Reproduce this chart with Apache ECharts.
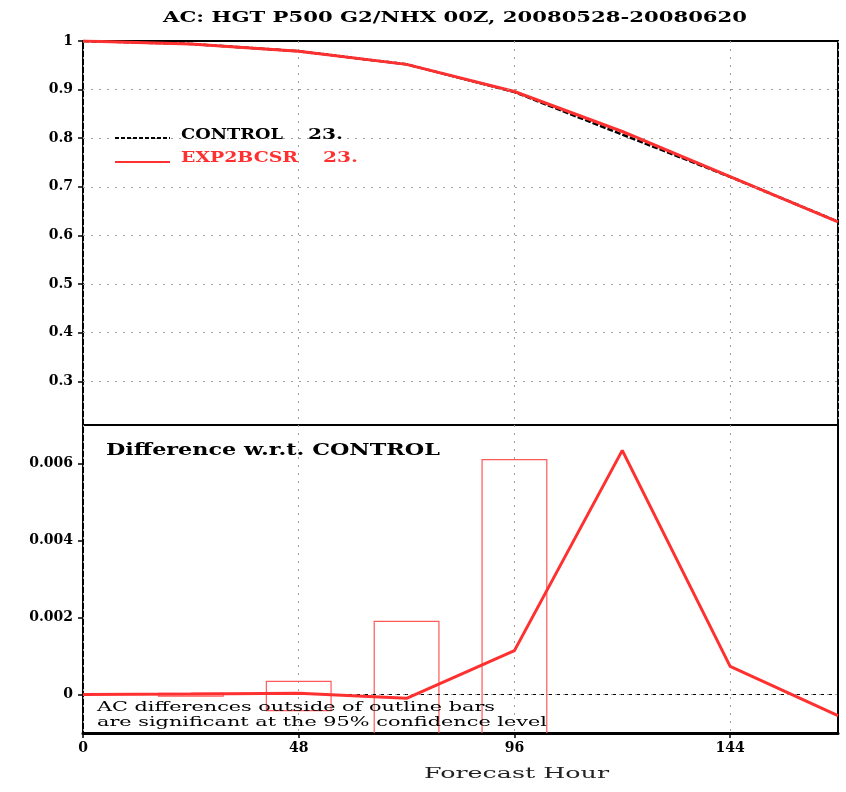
<!DOCTYPE html>
<html><head><meta charset="utf-8">
<script src="https://cdn.jsdelivr.net/npm/echarts@6/dist/echarts.min.js"></script>
<style>html,body{margin:0;padding:0;background:#fff}#c{width:846px;height:792px}</style>
</head><body><div id="c"></div>
<script>
// ---- data ----
const hours = [0, 24, 48, 72, 96, 120, 144, 168];
const controlAC = [1.0, 0.994, 0.979, 0.952, 0.895, 0.8075, 0.7205, 0.6285];
const expAC = [1.0, 0.994, 0.979, 0.9519, 0.8961, 0.8138, 0.7212, 0.6280];
const diffControl = [0, 0, 0, 0, 0, 0, 0, 0];
const diffExp = [0, 0.00001, 0.00003, -0.0001, 0.00114, 0.00634, 0.00073, -0.00055];
const barHours = [24, 48, 72, 96];
const barLow = [-0.00004, -0.00042, -0.0021, -0.0062];
const barHigh = [0.00003, 0.00034, 0.0019, 0.0061];
const xTicks = [0, 48, 96, 144];
const topTicks = [0.3, 0.4, 0.5, 0.6, 0.7, 0.8, 0.9, 1];
const diffTicks = [0, 0.002, 0.004, 0.006];
const titleText = 'AC: HGT P500 G2/NHX 00Z, 20080528-20080620';
const legendNames = ['CONTROL', 'EXP2BCSR'];
const legendCounts = ['23.', '23.'];
const panelTitle = 'Difference w.r.t. CONTROL';
const noteLines = ['AC differences outside of outline bars', 'are significant at the 95% confidence level'];
const xName = 'Forecast Hour';

// ---- helpers ----
const RED = '#ff3030';
const BAR_RED = '#ff5a5a';
const GRIDC = '#a0a0a0';
const ctx = document.createElement('canvas').getContext('2d');
function tw(text, font) { ctx.font = font; return ctx.measureText(text).width; }
function fitText(text, x0, x1, yc, font, fill) {
  const w = tw(text, font);
  return {
    type: 'text', x: x0, y: yc, scaleX: (x1 - x0) / w, z: 100,
    style: { text: text, font: font, fill: fill, textAlign: 'left', textVerticalAlign: 'middle', align: 'left', verticalAlign: 'middle' }
  };
}
const BOLD = 'bold 14px "DejaVu Serif"';
const REG = '13px "DejaVu Serif"';
const pairs = (xs, ys) => xs.map((x, i) => [x, ys[i]]);
const labelStyle = { fontFamily: 'DejaVu Serif', fontWeight: 'bold', fontSize: 14, color: '#000' };
const dotted = { color: GRIDC, width: 1, type: [2, 6] };

const chart = echarts.init(document.getElementById('c'), null, { renderer: 'canvas' });
chart.setOption({
  animation: false,
  backgroundColor: '#fff',
  grid: [
    { left: 83, right: 8, top: 41, height: 384, show: true, borderColor: '#000', borderWidth: 2, backgroundColor: 'transparent' },
    { left: 83, right: 8, top: 425, height: 308, show: true, borderColor: '#000', borderWidth: 2, backgroundColor: 'transparent' }
  ],
  xAxis: [
    { type: 'value', gridIndex: 0, min: 0, max: 168, interval: 48,
      axisLine: { show: false }, axisTick: { show: false }, axisLabel: { show: false },
      splitLine: { show: true, lineStyle: dotted } },
    { type: 'value', gridIndex: 1, min: 0, max: 168, interval: 48,
      axisLine: { show: true, onZero: false, lineStyle: { color: '#000', width: 3 } },
      axisTick: { show: true, length: 5, inside: false, customValues: xTicks, lineStyle: { color: '#000', width: 1.5 } },
      axisLabel: Object.assign({ show: true, margin: 8, customValues: xTicks }, labelStyle),
      splitLine: { show: true, lineStyle: dotted } }
  ],
  yAxis: [
    { type: 'value', gridIndex: 0, min: 0.21, max: 1,
      axisLine: { show: false },
      axisTick: { show: true, length: 5, customValues: topTicks, lineStyle: { color: '#000', width: 1.5 } },
      axisLabel: Object.assign({ show: true, margin: 10, customValues: topTicks,
        formatter: v => (Math.round(v * 10) / 10).toString() }, labelStyle),
      splitLine: { show: false } },
    { type: 'value', gridIndex: 1, min: -0.001, max: 0.007,
      axisLine: { show: false },
      axisTick: { show: true, length: 5, customValues: diffTicks, lineStyle: { color: '#000', width: 1.5 } },
      axisLabel: Object.assign({ show: true, margin: 10, customValues: diffTicks,
        formatter: v => (Math.abs(v) < 1e-9 ? '0' : v.toFixed(3)) }, labelStyle),
      splitLine: { show: false } }
  ],
  series: [
    { name: 'CONTROL', type: 'line', xAxisIndex: 0, yAxisIndex: 0, data: pairs(hours, controlAC),
      symbol: 'none', lineStyle: { color: '#000', width: 2.5, type: [6, 2] }, z: 3,
      markLine: { silent: true, symbol: ['none', 'none'], label: { show: false },
        lineStyle: dotted, data: topTicks.filter(v => v < 1).map(v => ({ yAxis: v })) } },
    { name: 'EXP2BCSR', type: 'line', xAxisIndex: 0, yAxisIndex: 0, data: pairs(hours, expAC),
      symbol: 'none', lineStyle: { color: RED, width: 3 }, z: 4 },
    { name: 'bars', type: 'custom', xAxisIndex: 1, yAxisIndex: 1, clip: true, z: 2,
      data: barHours.map((h, i) => [h, barLow[i], barHigh[i]]),
      renderItem: function (params, api) {
        const x = api.value(0), lo = api.value(1), hi = api.value(2);
        const p1 = api.coord([x - 7.2, hi]);
        const p2 = api.coord([x + 7.2, lo]);
        return { type: 'rect', shape: { x: p1[0], y: p1[1], width: p2[0] - p1[0], height: p2[1] - p1[1] },
          style: { fill: 'none', stroke: BAR_RED, lineWidth: 1.2 } };
      } },
    { name: 'diffControl', type: 'line', xAxisIndex: 1, yAxisIndex: 1, data: pairs(hours, diffControl),
      symbol: 'none', lineStyle: { color: '#000', width: 1, type: [5, 3] }, z: 3,
      markLine: { silent: true, symbol: ['none', 'none'], label: { show: false },
        lineStyle: dotted, data: diffTicks.filter(v => v > 0).map(v => ({ yAxis: v })) } },
    { name: 'diffExp', type: 'line', xAxisIndex: 1, yAxisIndex: 1, data: pairs(hours, diffExp),
      symbol: 'none', lineStyle: { color: RED, width: 3 }, z: 5 }
  ],
  graphic: [
    fitText(titleText, 163, 747, 18, BOLD, '#000'),
    { type: 'line', z: 100, shape: { x1: 115, y1: 138, x2: 170, y2: 138 }, style: { stroke: '#000', lineWidth: 2, lineDash: [4, 2] } },
    { type: 'line', z: 100, shape: { x1: 115, y1: 162, x2: 170, y2: 162 }, style: { stroke: RED, lineWidth: 2 } },
    fitText(legendNames[0], 181, 283, 135, BOLD, '#000'),
    fitText(legendCounts[0], 308, 343, 135, BOLD, '#000'),
    fitText(legendNames[1], 181, 298, 158, BOLD, RED),
    fitText(legendCounts[1], 323, 358, 158, BOLD, RED),
    fitText(panelTitle, 106, 440, 451, 'bold 16px "DejaVu Serif"', '#000'),
    fitText(noteLines[0], 97, 495, 708, REG, '#000'),
    fitText(noteLines[1], 97, 547, 723, REG, '#000'),
    fitText(xName, 424, 609, 774, '15px "DejaVu Serif"', '#222')
  ]
});
</script>
</body></html>
